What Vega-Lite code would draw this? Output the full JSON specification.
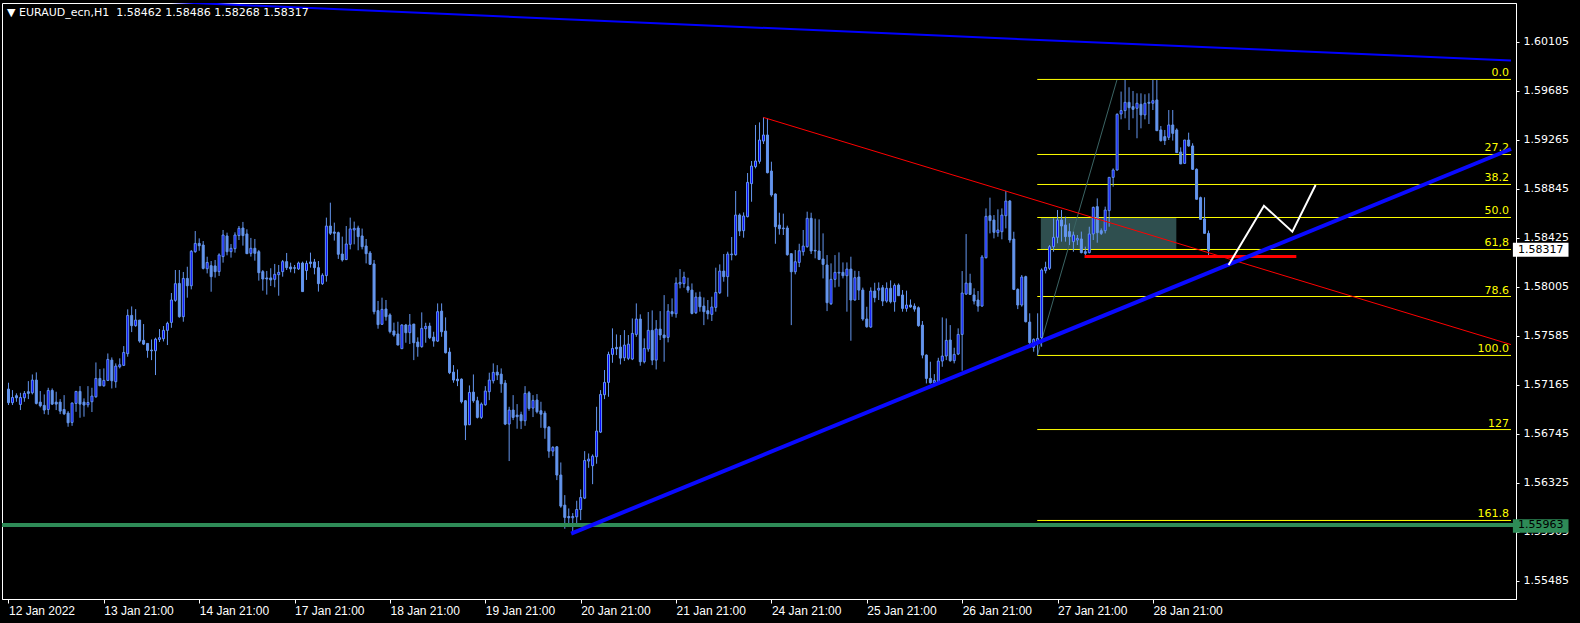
{
"$schema": "https://vega.github.io/schema/vega-lite/v6.json",
"width": 1514, "height": 596,
"autosize": {"type": "none"},
"padding": {"left": 2, "top": 3, "right": 64, "bottom": 24},
"background": "#000000",
"config": {"view": {"stroke": "#ffffff", "strokeWidth": 1}},
"title": {"text": "▼ EURAUD_ecn,H1\u00a0\u00a01.58462 1.58486 1.58268 1.58317", "anchor": "start", "orient": "top", "offset": 0, "dy": 24, "baseline": "alphabetic", "color": "#ffffff", "font": "DejaVu Sans", "fontSize": 11, "fontWeight": "normal", "dx": 5},
"datasets": {
"candles": [
{"i":0,"o":1.57128,"h":1.57182,"l":1.56991,"c":1.57011},
{"i":1,"o":1.57011,"h":1.57119,"l":1.56991,"c":1.57056},
{"i":2,"o":1.57071,"h":1.57091,"l":1.57019,"c":1.57053},
{"i":3,"o":1.56996,"h":1.57096,"l":1.56948,"c":1.57056},
{"i":4,"o":1.57053,"h":1.57111,"l":1.57019,"c":1.57091},
{"i":5,"o":1.57105,"h":1.57196,"l":1.57042,"c":1.57091},
{"i":6,"o":1.57096,"h":1.57253,"l":1.57082,"c":1.57205},
{"i":7,"o":1.57205,"h":1.57271,"l":1.56996,"c":1.57005},
{"i":8,"o":1.57016,"h":1.57111,"l":1.56971,"c":1.56985},
{"i":9,"o":1.56988,"h":1.57082,"l":1.56913,"c":1.56948},
{"i":10,"o":1.56953,"h":1.57139,"l":1.56908,"c":1.57116},
{"i":11,"o":1.57116,"h":1.57133,"l":1.56991,"c":1.56999},
{"i":12,"o":1.57016,"h":1.57105,"l":1.56948,"c":1.56999},
{"i":13,"o":1.57016,"h":1.57042,"l":1.56913,"c":1.56939},
{"i":14,"o":1.56953,"h":1.57076,"l":1.56905,"c":1.56916},
{"i":15,"o":1.56922,"h":1.56939,"l":1.56805,"c":1.56839},
{"i":16,"o":1.56842,"h":1.57013,"l":1.56813,"c":1.57008},
{"i":17,"o":1.57005,"h":1.57111,"l":1.56933,"c":1.57108},
{"i":18,"o":1.57108,"h":1.57153,"l":1.56882,"c":1.56999},
{"i":19,"o":1.57016,"h":1.57048,"l":1.56891,"c":1.56991},
{"i":20,"o":1.56993,"h":1.57153,"l":1.56971,"c":1.57013},
{"i":21,"o":1.57019,"h":1.57139,"l":1.56931,"c":1.57068},
{"i":22,"o":1.57062,"h":1.57356,"l":1.57053,"c":1.57219},
{"i":23,"o":1.57219,"h":1.57299,"l":1.57156,"c":1.57156},
{"i":24,"o":1.57156,"h":1.57305,"l":1.57148,"c":1.57202},
{"i":25,"o":1.57202,"h":1.57433,"l":1.57196,"c":1.57382},
{"i":26,"o":1.57376,"h":1.57399,"l":1.57133,"c":1.57199},
{"i":27,"o":1.57191,"h":1.57348,"l":1.57139,"c":1.57325},
{"i":28,"o":1.57319,"h":1.57391,"l":1.57305,"c":1.57336},
{"i":29,"o":1.57331,"h":1.57496,"l":1.57325,"c":1.57442},
{"i":30,"o":1.57431,"h":1.57811,"l":1.57405,"c":1.57759},
{"i":31,"o":1.57759,"h":1.57836,"l":1.57616,"c":1.57671},
{"i":32,"o":1.57671,"h":1.57813,"l":1.57662,"c":1.57719},
{"i":33,"o":1.57719,"h":1.57719,"l":1.57525,"c":1.57539},
{"i":34,"o":1.57545,"h":1.57685,"l":1.57505,"c":1.57513},
{"i":35,"o":1.57519,"h":1.57519,"l":1.57396,"c":1.57459},
{"i":36,"o":1.57462,"h":1.57553,"l":1.57376,"c":1.57456},
{"i":37,"o":1.57456,"h":1.57568,"l":1.57248,"c":1.57556},
{"i":38,"o":1.57553,"h":1.57642,"l":1.57531,"c":1.57568},
{"i":39,"o":1.57559,"h":1.57668,"l":1.57536,"c":1.57631},
{"i":40,"o":1.57631,"h":1.57705,"l":1.57505,"c":1.57691},
{"i":41,"o":1.57699,"h":1.57951,"l":1.57653,"c":1.57891},
{"i":42,"o":1.57888,"h":1.58148,"l":1.57876,"c":1.58031},
{"i":43,"o":1.58033,"h":1.58148,"l":1.57739,"c":1.57748},
{"i":44,"o":1.57748,"h":1.58131,"l":1.57705,"c":1.58076},
{"i":45,"o":1.58076,"h":1.58176,"l":1.57911,"c":1.58013},
{"i":46,"o":1.58013,"h":1.58319,"l":1.57982,"c":1.58308},
{"i":47,"o":1.58305,"h":1.58482,"l":1.58296,"c":1.58376},
{"i":48,"o":1.58376,"h":1.58419,"l":1.58313,"c":1.58356},
{"i":49,"o":1.58362,"h":1.58396,"l":1.58153,"c":1.58162},
{"i":50,"o":1.58159,"h":1.58262,"l":1.58119,"c":1.58213},
{"i":51,"o":1.58185,"h":1.58225,"l":1.57962,"c":1.58091},
{"i":52,"o":1.58183,"h":1.58234,"l":1.58083,"c":1.58134},
{"i":53,"o":1.58134,"h":1.58291,"l":1.58097,"c":1.58277},
{"i":54,"o":1.58263,"h":1.58491,"l":1.58211,"c":1.58448},
{"i":55,"o":1.5844,"h":1.58468,"l":1.58274,"c":1.58305},
{"i":56,"o":1.58305,"h":1.58371,"l":1.58254,"c":1.58334},
{"i":57,"o":1.58331,"h":1.58471,"l":1.58297,"c":1.58448},
{"i":58,"o":1.58443,"h":1.58525,"l":1.58405,"c":1.58505},
{"i":59,"o":1.58508,"h":1.5856,"l":1.58357,"c":1.58443},
{"i":60,"o":1.58457,"h":1.58497,"l":1.58288,"c":1.58288},
{"i":61,"o":1.58291,"h":1.58423,"l":1.58263,"c":1.58334},
{"i":62,"o":1.58334,"h":1.58414,"l":1.58228,"c":1.58291},
{"i":63,"o":1.58305,"h":1.5832,"l":1.58057,"c":1.58125},
{"i":64,"o":1.58134,"h":1.58148,"l":1.57971,"c":1.58071},
{"i":65,"o":1.5808,"h":1.5814,"l":1.57937,"c":1.58071},
{"i":66,"o":1.5808,"h":1.58163,"l":1.58011,"c":1.58063},
{"i":67,"o":1.58068,"h":1.582,"l":1.58,"c":1.58111},
{"i":68,"o":1.58108,"h":1.58191,"l":1.57928,"c":1.58128},
{"i":69,"o":1.58134,"h":1.58234,"l":1.58091,"c":1.5822},
{"i":70,"o":1.5822,"h":1.58294,"l":1.58148,"c":1.58168},
{"i":71,"o":1.58174,"h":1.58211,"l":1.58128,"c":1.58157},
{"i":72,"o":1.58168,"h":1.58191,"l":1.5812,"c":1.58163},
{"i":73,"o":1.58157,"h":1.5822,"l":1.58148,"c":1.58208},
{"i":74,"o":1.58208,"h":1.5822,"l":1.57963,"c":1.57963},
{"i":75,"o":1.58143,"h":1.58228,"l":1.58063,"c":1.58205},
{"i":76,"o":1.58217,"h":1.58297,"l":1.58168,"c":1.58203},
{"i":77,"o":1.58217,"h":1.58243,"l":1.58111,"c":1.58168},
{"i":78,"o":1.58168,"h":1.58225,"l":1.57963,"c":1.58031},
{"i":79,"o":1.58031,"h":1.5812,"l":1.5802,"c":1.58103},
{"i":80,"o":1.581,"h":1.58597,"l":1.58048,"c":1.58525},
{"i":81,"o":1.58525,"h":1.58725,"l":1.58448,"c":1.58463},
{"i":82,"o":1.58474,"h":1.58554,"l":1.584,"c":1.58463},
{"i":83,"o":1.58468,"h":1.58477,"l":1.58243,"c":1.58283},
{"i":84,"o":1.58285,"h":1.58434,"l":1.5822,"c":1.58234},
{"i":85,"o":1.58237,"h":1.58525,"l":1.58234,"c":1.58371},
{"i":86,"o":1.58368,"h":1.58597,"l":1.58325,"c":1.585},
{"i":87,"o":1.58491,"h":1.58563,"l":1.58368,"c":1.58505},
{"i":88,"o":1.58508,"h":1.58528,"l":1.58317,"c":1.58434},
{"i":89,"o":1.5844,"h":1.58503,"l":1.58325,"c":1.58348},
{"i":90,"o":1.58354,"h":1.58414,"l":1.58205,"c":1.58288},
{"i":91,"o":1.58294,"h":1.58311,"l":1.58191,"c":1.58197},
{"i":92,"o":1.582,"h":1.58234,"l":1.57768,"c":1.57791},
{"i":93,"o":1.578,"h":1.57883,"l":1.57645,"c":1.5768},
{"i":94,"o":1.57683,"h":1.57911,"l":1.57677,"c":1.57811},
{"i":95,"o":1.57814,"h":1.57891,"l":1.57714,"c":1.57748},
{"i":96,"o":1.57763,"h":1.57777,"l":1.57605,"c":1.5762},
{"i":97,"o":1.57626,"h":1.57697,"l":1.57577,"c":1.57591},
{"i":98,"o":1.576,"h":1.57705,"l":1.57505,"c":1.57505},
{"i":99,"o":1.57474,"h":1.57683,"l":1.57474,"c":1.57677},
{"i":100,"o":1.57677,"h":1.57686,"l":1.57525,"c":1.57611},
{"i":101,"o":1.57611,"h":1.57771,"l":1.57514,"c":1.57677},
{"i":102,"o":1.57685,"h":1.57685,"l":1.57376,"c":1.57525},
{"i":103,"o":1.57531,"h":1.57571,"l":1.57405,"c":1.57491},
{"i":104,"o":1.57491,"h":1.57785,"l":1.57482,"c":1.57648},
{"i":105,"o":1.57645,"h":1.57696,"l":1.57525,"c":1.57665},
{"i":106,"o":1.57668,"h":1.57696,"l":1.57556,"c":1.57568},
{"i":107,"o":1.57573,"h":1.57619,"l":1.57491,"c":1.57539},
{"i":108,"o":1.57539,"h":1.57862,"l":1.57531,"c":1.57791},
{"i":109,"o":1.57796,"h":1.57862,"l":1.57576,"c":1.57619},
{"i":110,"o":1.57625,"h":1.57742,"l":1.57433,"c":1.57439},
{"i":111,"o":1.57445,"h":1.57482,"l":1.57256,"c":1.57268},
{"i":112,"o":1.57273,"h":1.57333,"l":1.57182,"c":1.57205},
{"i":113,"o":1.57213,"h":1.57296,"l":1.57153,"c":1.57199},
{"i":114,"o":1.57213,"h":1.57219,"l":1.57005,"c":1.57019},
{"i":115,"o":1.57028,"h":1.57034,"l":1.56691,"c":1.56819},
{"i":116,"o":1.56822,"h":1.57159,"l":1.56819,"c":1.57099},
{"i":117,"o":1.57102,"h":1.57253,"l":1.57011,"c":1.57028},
{"i":118,"o":1.57028,"h":1.57062,"l":1.56876,"c":1.56885},
{"i":119,"o":1.56885,"h":1.57013,"l":1.56871,"c":1.56999},
{"i":120,"o":1.56993,"h":1.57153,"l":1.56985,"c":1.57111},
{"i":121,"o":1.57105,"h":1.57268,"l":1.57033,"c":1.57205},
{"i":122,"o":1.57199,"h":1.57348,"l":1.57176,"c":1.57271},
{"i":123,"o":1.57273,"h":1.57333,"l":1.57205,"c":1.57248},
{"i":124,"o":1.57256,"h":1.57305,"l":1.57096,"c":1.57173},
{"i":125,"o":1.57179,"h":1.57205,"l":1.56819,"c":1.56828},
{"i":126,"o":1.56828,"h":1.56976,"l":1.56511,"c":1.56948},
{"i":127,"o":1.56948,"h":1.57076,"l":1.56862,"c":1.56885},
{"i":128,"o":1.56905,"h":1.56999,"l":1.56788,"c":1.56891},
{"i":129,"o":1.56908,"h":1.56934,"l":1.56785,"c":1.56856},
{"i":130,"o":1.56856,"h":1.57153,"l":1.56813,"c":1.57091},
{"i":131,"o":1.57096,"h":1.57111,"l":1.56942,"c":1.56962},
{"i":132,"o":1.56965,"h":1.57076,"l":1.56888,"c":1.57031},
{"i":133,"o":1.57034,"h":1.57085,"l":1.56919,"c":1.56933},
{"i":134,"o":1.56942,"h":1.57019,"l":1.56796,"c":1.56913},
{"i":135,"o":1.56922,"h":1.56942,"l":1.56702,"c":1.56796},
{"i":136,"o":1.56802,"h":1.56811,"l":1.56539,"c":1.56596},
{"i":137,"o":1.56596,"h":1.56639,"l":1.56553,"c":1.56628},
{"i":138,"o":1.56633,"h":1.56639,"l":1.56348,"c":1.56391},
{"i":139,"o":1.56391,"h":1.56499,"l":1.56111,"c":1.56125},
{"i":140,"o":1.56133,"h":1.56219,"l":1.55931,"c":1.56028},
{"i":141,"o":1.56036,"h":1.56105,"l":1.55948,"c":1.56025},
{"i":142,"o":1.56025,"h":1.56065,"l":1.55891,"c":1.56036},
{"i":143,"o":1.56033,"h":1.56171,"l":1.55948,"c":1.56096},
{"i":144,"o":1.56096,"h":1.56268,"l":1.56005,"c":1.56199},
{"i":145,"o":1.56193,"h":1.56596,"l":1.56185,"c":1.56516},
{"i":146,"o":1.56511,"h":1.56576,"l":1.56453,"c":1.56528},
{"i":147,"o":1.56471,"h":1.56568,"l":1.56313,"c":1.56553},
{"i":148,"o":1.56548,"h":1.56976,"l":1.56488,"c":1.56768},
{"i":149,"o":1.56759,"h":1.57119,"l":1.56751,"c":1.57082},
{"i":150,"o":1.57079,"h":1.57291,"l":1.57042,"c":1.57185},
{"i":151,"o":1.57185,"h":1.57448,"l":1.57062,"c":1.57425},
{"i":152,"o":1.57425,"h":1.57648,"l":1.57353,"c":1.57476},
{"i":153,"o":1.57485,"h":1.57596,"l":1.57419,"c":1.57473},
{"i":154,"o":1.57488,"h":1.57591,"l":1.57339,"c":1.57393},
{"i":155,"o":1.57396,"h":1.57633,"l":1.57368,"c":1.57505},
{"i":156,"o":1.57391,"h":1.57591,"l":1.57376,"c":1.57513},
{"i":157,"o":1.57385,"h":1.57733,"l":1.57376,"c":1.57605},
{"i":158,"o":1.57596,"h":1.57862,"l":1.57576,"c":1.57728},
{"i":159,"o":1.57728,"h":1.57768,"l":1.57328,"c":1.57362},
{"i":160,"o":1.57362,"h":1.57562,"l":1.57348,"c":1.57476},
{"i":161,"o":1.57471,"h":1.57788,"l":1.57448,"c":1.57631},
{"i":162,"o":1.57631,"h":1.57802,"l":1.57333,"c":1.57376},
{"i":163,"o":1.57376,"h":1.57719,"l":1.57296,"c":1.57642},
{"i":164,"o":1.57642,"h":1.57796,"l":1.57548,"c":1.57591},
{"i":165,"o":1.57591,"h":1.57933,"l":1.57362,"c":1.57568},
{"i":166,"o":1.57571,"h":1.57856,"l":1.57528,"c":1.57796},
{"i":167,"o":1.57791,"h":1.57905,"l":1.57748,"c":1.57773},
{"i":168,"o":1.57773,"h":1.58085,"l":1.57739,"c":1.58036},
{"i":169,"o":1.58028,"h":1.58156,"l":1.57991,"c":1.58042},
{"i":170,"o":1.58031,"h":1.58133,"l":1.57996,"c":1.58088},
{"i":171,"o":1.58005,"h":1.58082,"l":1.57953,"c":1.57976},
{"i":172,"o":1.57976,"h":1.58033,"l":1.57768,"c":1.57776},
{"i":173,"o":1.57782,"h":1.57956,"l":1.57771,"c":1.57916},
{"i":174,"o":1.57916,"h":1.57962,"l":1.57791,"c":1.57833},
{"i":175,"o":1.57839,"h":1.57913,"l":1.57676,"c":1.57791},
{"i":176,"o":1.57799,"h":1.57891,"l":1.57725,"c":1.57773},
{"i":177,"o":1.57768,"h":1.57919,"l":1.57711,"c":1.57831},
{"i":178,"o":1.57828,"h":1.58168,"l":1.57791,"c":1.57956},
{"i":179,"o":1.57953,"h":1.58196,"l":1.57942,"c":1.58139},
{"i":180,"o":1.58139,"h":1.58285,"l":1.58048,"c":1.58091},
{"i":181,"o":1.58091,"h":1.58305,"l":1.57919,"c":1.58285},
{"i":182,"o":1.58279,"h":1.58431,"l":1.58231,"c":1.58285},
{"i":183,"o":1.58279,"h":1.58825,"l":1.58271,"c":1.58619},
{"i":184,"o":1.58619,"h":1.58633,"l":1.58439,"c":1.58482},
{"i":185,"o":1.58485,"h":1.58642,"l":1.58425,"c":1.58611},
{"i":186,"o":1.58605,"h":1.58979,"l":1.58599,"c":1.58899},
{"i":187,"o":1.58888,"h":1.59082,"l":1.58733,"c":1.59039},
{"i":188,"o":1.59034,"h":1.59391,"l":1.59019,"c":1.59082},
{"i":189,"o":1.59079,"h":1.59413,"l":1.59059,"c":1.59262},
{"i":190,"o":1.59253,"h":1.59456,"l":1.59228,"c":1.59305},
{"i":191,"o":1.59305,"h":1.59448,"l":1.58976,"c":1.58982},
{"i":192,"o":1.58996,"h":1.59076,"l":1.58776,"c":1.58791},
{"i":193,"o":1.58799,"h":1.58805,"l":1.58373,"c":1.58519},
{"i":194,"o":1.58533,"h":1.58639,"l":1.58451,"c":1.58502},
{"i":195,"o":1.58508,"h":1.58631,"l":1.58448,"c":1.58502},
{"i":196,"o":1.58508,"h":1.58528,"l":1.58271,"c":1.58279},
{"i":197,"o":1.58288,"h":1.58288,"l":1.57676,"c":1.58133},
{"i":198,"o":1.58133,"h":1.58319,"l":1.58111,"c":1.58219},
{"i":199,"o":1.58213,"h":1.58373,"l":1.58173,"c":1.58313},
{"i":200,"o":1.58305,"h":1.58491,"l":1.58271,"c":1.58353},
{"i":201,"o":1.58348,"h":1.58648,"l":1.58339,"c":1.58591},
{"i":202,"o":1.58591,"h":1.58639,"l":1.58285,"c":1.58311},
{"i":203,"o":1.58316,"h":1.58588,"l":1.58248,"c":1.58311},
{"i":204,"o":1.58311,"h":1.58582,"l":1.58233,"c":1.58239},
{"i":205,"o":1.58242,"h":1.58462,"l":1.58076,"c":1.58196},
{"i":206,"o":1.58191,"h":1.58276,"l":1.57796,"c":1.57868},
{"i":207,"o":1.57859,"h":1.58205,"l":1.57848,"c":1.58068},
{"i":208,"o":1.58068,"h":1.58276,"l":1.57999,"c":1.58128},
{"i":209,"o":1.58122,"h":1.58299,"l":1.58005,"c":1.58128},
{"i":210,"o":1.58128,"h":1.58213,"l":1.58076,"c":1.58099},
{"i":211,"o":1.58099,"h":1.58213,"l":1.57791,"c":1.58156},
{"i":212,"o":1.58156,"h":1.58262,"l":1.57542,"c":1.57891},
{"i":213,"o":1.57891,"h":1.58142,"l":1.57885,"c":1.58082},
{"i":214,"o":1.58088,"h":1.58139,"l":1.57891,"c":1.57976},
{"i":215,"o":1.57976,"h":1.57997,"l":1.57713,"c":1.57728},
{"i":216,"o":1.57728,"h":1.57833,"l":1.57653,"c":1.57662},
{"i":217,"o":1.57659,"h":1.57999,"l":1.57653,"c":1.57968},
{"i":218,"o":1.57968,"h":1.58039,"l":1.57871,"c":1.57911},
{"i":219,"o":1.57976,"h":1.58042,"l":1.57891,"c":1.57991},
{"i":220,"o":1.57996,"h":1.58019,"l":1.57839,"c":1.57882},
{"i":221,"o":1.57882,"h":1.58042,"l":1.57868,"c":1.57991},
{"i":222,"o":1.57991,"h":1.58059,"l":1.57862,"c":1.57876},
{"i":223,"o":1.57876,"h":1.58033,"l":1.57791,"c":1.58016},
{"i":224,"o":1.58019,"h":1.58033,"l":1.57928,"c":1.57928},
{"i":225,"o":1.57934,"h":1.57976,"l":1.57791,"c":1.57819},
{"i":226,"o":1.57819,"h":1.57971,"l":1.57791,"c":1.57848},
{"i":227,"o":1.57848,"h":1.57896,"l":1.57825,"c":1.57831},
{"i":228,"o":1.57839,"h":1.57862,"l":1.57791,"c":1.57813},
{"i":229,"o":1.57825,"h":1.57836,"l":1.57662,"c":1.57671},
{"i":230,"o":1.57676,"h":1.57711,"l":1.57391,"c":1.57419},
{"i":231,"o":1.57419,"h":1.57425,"l":1.57176,"c":1.57219},
{"i":232,"o":1.57219,"h":1.57362,"l":1.57176,"c":1.57182},
{"i":233,"o":1.57182,"h":1.57256,"l":1.57176,"c":1.57202},
{"i":234,"o":1.57191,"h":1.57396,"l":1.57176,"c":1.57368},
{"i":235,"o":1.57368,"h":1.57742,"l":1.57319,"c":1.57411},
{"i":236,"o":1.57411,"h":1.57733,"l":1.57376,"c":1.57545},
{"i":237,"o":1.57548,"h":1.57676,"l":1.57362,"c":1.57371},
{"i":238,"o":1.57371,"h":1.57482,"l":1.57348,"c":1.57425},
{"i":239,"o":1.57428,"h":1.57648,"l":1.57419,"c":1.57596},
{"i":240,"o":1.57596,"h":1.58139,"l":1.57285,"c":1.57951},
{"i":241,"o":1.57942,"h":1.58456,"l":1.57934,"c":1.58036},
{"i":242,"o":1.58036,"h":1.58116,"l":1.57934,"c":1.57939},
{"i":243,"o":1.57934,"h":1.57991,"l":1.57853,"c":1.57882},
{"i":244,"o":1.57891,"h":1.57968,"l":1.57791,"c":1.57839},
{"i":245,"o":1.57839,"h":1.58276,"l":1.57834,"c":1.58259},
{"i":246,"o":1.58253,"h":1.58676,"l":1.58248,"c":1.58608},
{"i":247,"o":1.58613,"h":1.58768,"l":1.58462,"c":1.58571},
{"i":248,"o":1.58576,"h":1.58619,"l":1.58419,"c":1.58471},
{"i":249,"o":1.58468,"h":1.58668,"l":1.58433,"c":1.58491},
{"i":250,"o":1.58476,"h":1.58676,"l":1.58411,"c":1.58619},
{"i":251,"o":1.58613,"h":1.58825,"l":1.58505,"c":1.58739},
{"i":252,"o":1.58739,"h":1.58748,"l":1.58382,"c":1.58405},
{"i":253,"o":1.58413,"h":1.58476,"l":1.57976,"c":1.57982},
{"i":254,"o":1.57982,"h":1.57991,"l":1.57813,"c":1.57848},
{"i":255,"o":1.57848,"h":1.58105,"l":1.57834,"c":1.58088},
{"i":256,"o":1.58091,"h":1.58099,"l":1.57699,"c":1.57705},
{"i":257,"o":1.57702,"h":1.57777,"l":1.57485,"c":1.57525},
{"i":258,"o":1.57485,"h":1.57562,"l":1.57448,"c":1.57554},
{"i":259,"o":1.57525,"h":1.57777,"l":1.57419,"c":1.57562},
{"i":260,"o":1.57568,"h":1.58162,"l":1.57491,"c":1.58148},
{"i":261,"o":1.58142,"h":1.58219,"l":1.58119,"c":1.58171},
{"i":262,"o":1.58162,"h":1.58362,"l":1.58148,"c":1.58348},
{"i":263,"o":1.58348,"h":1.58591,"l":1.58305,"c":1.58428},
{"i":264,"o":1.58428,"h":1.58662,"l":1.58377,"c":1.58577},
{"i":265,"o":1.58577,"h":1.58662,"l":1.58391,"c":1.58525},
{"i":266,"o":1.58534,"h":1.58605,"l":1.58391,"c":1.58434},
{"i":267,"o":1.58477,"h":1.58548,"l":1.58362,"c":1.58434},
{"i":268,"o":1.58391,"h":1.58477,"l":1.58305,"c":1.58448},
{"i":269,"o":1.58405,"h":1.58448,"l":1.58362,"c":1.58419},
{"i":270,"o":1.58414,"h":1.58477,"l":1.58291,"c":1.58297},
{"i":271,"o":1.58305,"h":1.58348,"l":1.58277,"c":1.58291},
{"i":272,"o":1.58297,"h":1.58519,"l":1.58291,"c":1.58457},
{"i":273,"o":1.58457,"h":1.58691,"l":1.58405,"c":1.58685},
{"i":274,"o":1.58691,"h":1.58762,"l":1.58382,"c":1.58468},
{"i":275,"o":1.58485,"h":1.58505,"l":1.58448,"c":1.58462},
{"i":276,"o":1.58485,"h":1.58691,"l":1.58462,"c":1.58662},
{"i":277,"o":1.58657,"h":1.58762,"l":1.58519,"c":1.58942},
{"i":278,"o":1.58942,"h":1.59019,"l":1.58862,"c":1.59005},
{"i":279,"o":1.59005,"h":1.59491,"l":1.58999,"c":1.59482},
{"i":280,"o":1.59485,"h":1.59677,"l":1.59439,"c":1.59514},
{"i":281,"o":1.59514,"h":1.59777,"l":1.59448,"c":1.59585},
{"i":282,"o":1.59585,"h":1.59714,"l":1.59348,"c":1.59539},
{"i":283,"o":1.59548,"h":1.59682,"l":1.59448,"c":1.59525},
{"i":284,"o":1.59534,"h":1.59662,"l":1.59277,"c":1.59577},
{"i":285,"o":1.59568,"h":1.59662,"l":1.59362,"c":1.59477},
{"i":286,"o":1.59477,"h":1.59654,"l":1.59439,"c":1.59577},
{"i":287,"o":1.59585,"h":1.59662,"l":1.59399,"c":1.59577},
{"i":288,"o":1.59577,"h":1.59777,"l":1.59519,"c":1.59599},
{"i":289,"o":1.59605,"h":1.59777,"l":1.59342,"c":1.59342},
{"i":290,"o":1.59348,"h":1.59382,"l":1.59248,"c":1.59257},
{"i":291,"o":1.59291,"h":1.59348,"l":1.59219,"c":1.59257},
{"i":292,"o":1.59285,"h":1.59519,"l":1.59262,"c":1.59391},
{"i":293,"o":1.59391,"h":1.59519,"l":1.59257,"c":1.59319},
{"i":294,"o":1.59348,"h":1.59362,"l":1.59154,"c":1.59154},
{"i":295,"o":1.59159,"h":1.59199,"l":1.59057,"c":1.59057},
{"i":296,"o":1.59062,"h":1.59262,"l":1.59057,"c":1.59262},
{"i":297,"o":1.59262,"h":1.59325,"l":1.59205,"c":1.59211},
{"i":298,"o":1.59211,"h":1.59234,"l":1.59005,"c":1.59011},
{"i":299,"o":1.59011,"h":1.59019,"l":1.58754,"c":1.58754},
{"i":300,"o":1.58768,"h":1.58777,"l":1.58582,"c":1.58582},
{"i":301,"o":1.58585,"h":1.58771,"l":1.58462,"c":1.58462},
{"i":302,"o":1.58462,"h":1.58486,"l":1.58268,"c":1.58317}
],
"fib": [
{"lvl":"0.0","p":1.59781},{"lvl":"27.2","p":1.59138},{"lvl":"38.2","p":1.58881},{"lvl":"50.0","p":1.58598},{"lvl":"61,8","p":1.58324},{"lvl":"78.6","p":1.57921},{"lvl":"100.0","p":1.57416},{"lvl":"127","p":1.56781},{"lvl":"161.8","p":1.56002}
],
"zone": [{"i1":259.8,"i2":293.9,"p1":1.58596,"p2":1.58325}],
"fibtrend": [{"i":258.9,"p":1.57416},{"i":278.95,"p":1.59776}],
"redline": [{"i":189.95,"p":1.59456},{"i":378.125,"p":1.57509}],
"bluedown": [{"i":40,"p":1.60446},{"i":378.125,"p":1.59943}],
"blueup": [{"i":141.6,"p":1.5589},{"i":378.125,"p":1.59185}],
"zigzag": [{"k":1,"i":307.05,"p":1.58191},{"k":2,"i":315.95,"p":1.58699},{"k":3,"i":323.1,"p":1.58476},{"k":4,"i":328.95,"p":1.58876}],
"support": [{"p":1.55963}],
"redlevel": [{"i1":270.8,"i2":324.1,"p":1.58264}],
"lastprice": [{"p":1.58317,"top":1.58382,"bot":1.58262}],
"supportlabel": [{"p":1.55963,"top":1.56012,"bot":1.55897}]
},
"layer": [
{"data": {"name": "zone"}, "mark": {"type": "rect", "color": "#2F4F4F", "clip": true},
 "encoding": {
  "x": {"field": "i1", "type": "quantitative", "title": null, "scale": {"domain": [-0.375, 378.125], "nice": false, "zero": false},
   "axis": {"values": [0,24,48,72,96,120,144,168,192,216,240,264,288],
    "labelExpr": "['12 Jan 2022','13 Jan 21:00','14 Jan 21:00','17 Jan 21:00','18 Jan 21:00','19 Jan 21:00','20 Jan 21:00','21 Jan 21:00','24 Jan 21:00','25 Jan 21:00','26 Jan 21:00','27 Jan 21:00','28 Jan 21:00'][round(datum.value/24)]",
    "labelAlign": "left", "labelBaseline": "top", "labelColor": "#ffffff", "labelFont": "Liberation Sans", "labelFontSize": 12, "labelPadding": 2, "labelOverlap": false, "labelFlush": false,
    "tickColor": "#ffffff", "tickSize": 4, "domainColor": "#ffffff", "grid": false, "title": null}},
  "x2": {"field": "i2"},
  "y": {"field": "p1", "type": "quantitative", "title": null, "scale": {"domain": [1.55329, 1.60436], "nice": false, "zero": false},
   "axis": {"orient": "right", "values": [1.55485,1.55905,1.56325,1.56745,1.57165,1.57585,1.58005,1.58425,1.58845,1.59265,1.59685,1.60105], "format": ".5f",
    "labelColor": "#ffffff", "labelFont": "DejaVu Sans", "labelFontSize": 11, "labelPadding": 4, "labelOverlap": false, "labelFlush": false, "labelBaseline": "middle",
    "tickColor": "#ffffff", "tickSize": 3, "domainColor": "#ffffff", "grid": false, "title": null}},
  "y2": {"field": "p2"}}},
{"data": {"name": "fib"}, "mark": {"type": "rule", "color": "#FFFF00", "strokeWidth": 1, "clip": true},
 "encoding": {
  "x": {"datum": 258.9, "type": "quantitative", "title": null, "scale": {"domain": [-0.375, 378.125], "nice": false, "zero": false}},
  "x2": {"datum": 378.125},
  "y": {"field": "p", "type": "quantitative", "title": null, "scale": {"domain": [1.55329, 1.60436], "nice": false, "zero": false}}}},
{"data": {"name": "fib"}, "mark": {"type": "text", "color": "#FFFF00", "align": "right", "baseline": "alphabetic", "dy": -3, "font": "DejaVu Sans", "fontSize": 11},
 "encoding": {
  "x": {"datum": 377.6, "type": "quantitative", "title": null, "scale": {"domain": [-0.375, 378.125], "nice": false, "zero": false}},
  "y": {"field": "p", "type": "quantitative", "title": null, "scale": {"domain": [1.55329, 1.60436], "nice": false, "zero": false}},
  "text": {"field": "lvl"}}},
{"data": {"name": "fibtrend"}, "mark": {"type": "line", "color": "#3B6464", "strokeWidth": 1, "clip": true},
 "encoding": {
  "x": {"field": "i", "type": "quantitative", "title": null, "scale": {"domain": [-0.375, 378.125], "nice": false, "zero": false}},
  "y": {"field": "p", "type": "quantitative", "title": null, "scale": {"domain": [1.55329, 1.60436], "nice": false, "zero": false}}}},
{"data": {"name": "candles"}, "mark": {"type": "rule", "color": "#6495ED", "strokeWidth": 1, "clip": true},
 "encoding": {
  "x": {"field": "i", "type": "quantitative", "title": null, "scale": {"domain": [-0.375, 378.125], "nice": false, "zero": false}},
  "y": {"field": "l", "type": "quantitative", "title": null, "scale": {"domain": [1.55329, 1.60436], "nice": false, "zero": false}},
  "y2": {"field": "h"}}},
{"data": {"name": "candles"}, "mark": {"type": "bar", "width": 2, "stroke": "#6495ED", "strokeWidth": 1, "clip": true},
 "encoding": {
  "x": {"field": "i", "type": "quantitative", "title": null, "scale": {"domain": [-0.375, 378.125], "nice": false, "zero": false}},
  "y": {"field": "o", "type": "quantitative", "title": null, "scale": {"domain": [1.55329, 1.60436], "nice": false, "zero": false}},
  "y2": {"field": "c"},
  "fill": {"condition": {"test": "datum.c > datum.o", "value": "#0000FF"}, "value": "#6495ED"}}},
{"data": {"name": "redline"}, "mark": {"type": "line", "color": "#FF0000", "strokeWidth": 1, "clip": true},
 "encoding": {
  "x": {"field": "i", "type": "quantitative", "title": null, "scale": {"domain": [-0.375, 378.125], "nice": false, "zero": false}},
  "y": {"field": "p", "type": "quantitative", "title": null, "scale": {"domain": [1.55329, 1.60436], "nice": false, "zero": false}}}},
{"data": {"name": "support"}, "mark": {"type": "rule", "color": "#2E8B57", "strokeWidth": 4, "clip": true},
 "encoding": {
  "y": {"field": "p", "type": "quantitative", "title": null, "scale": {"domain": [1.55329, 1.60436], "nice": false, "zero": false}}}},
{"data": {"name": "redlevel"}, "mark": {"type": "rule", "color": "#FF0000", "strokeWidth": 3, "clip": true},
 "encoding": {
  "x": {"field": "i1", "type": "quantitative", "title": null, "scale": {"domain": [-0.375, 378.125], "nice": false, "zero": false}},
  "x2": {"field": "i2"},
  "y": {"field": "p", "type": "quantitative", "title": null, "scale": {"domain": [1.55329, 1.60436], "nice": false, "zero": false}}}},
{"data": {"name": "bluedown"}, "mark": {"type": "line", "color": "#0000FF", "strokeWidth": 2, "clip": true},
 "encoding": {
  "x": {"field": "i", "type": "quantitative", "title": null, "scale": {"domain": [-0.375, 378.125], "nice": false, "zero": false}},
  "y": {"field": "p", "type": "quantitative", "title": null, "scale": {"domain": [1.55329, 1.60436], "nice": false, "zero": false}}}},
{"data": {"name": "blueup"}, "mark": {"type": "line", "color": "#0A0AFF", "strokeWidth": 4, "clip": true},
 "encoding": {
  "x": {"field": "i", "type": "quantitative", "title": null, "scale": {"domain": [-0.375, 378.125], "nice": false, "zero": false}},
  "y": {"field": "p", "type": "quantitative", "title": null, "scale": {"domain": [1.55329, 1.60436], "nice": false, "zero": false}}}},
{"data": {"name": "zigzag"}, "mark": {"type": "line", "color": "#FFFFFF", "strokeWidth": 2, "clip": true},
 "encoding": {
  "x": {"field": "i", "type": "quantitative", "title": null, "scale": {"domain": [-0.375, 378.125], "nice": false, "zero": false}},
  "y": {"field": "p", "type": "quantitative", "title": null, "scale": {"domain": [1.55329, 1.60436], "nice": false, "zero": false}},
  "order": {"field": "k"}}},
{"data": {"name": "lastprice"}, "mark": {"type": "rect", "color": "#FFFFFF", "clip": false},
 "encoding": {
  "x": {"datum": 378.6, "type": "quantitative", "title": null, "scale": {"domain": [-0.375, 378.125], "nice": false, "zero": false}},
  "x2": {"datum": 392.6},
  "y": {"field": "top", "type": "quantitative", "title": null, "scale": {"domain": [1.55329, 1.60436], "nice": false, "zero": false}},
  "y2": {"field": "bot"}}},
{"data": {"name": "lastprice"}, "mark": {"type": "text", "color": "#000000", "align": "left", "baseline": "middle", "font": "DejaVu Sans", "fontSize": 11, "clip": false},
 "encoding": {
  "x": {"datum": 379.9, "type": "quantitative", "title": null, "scale": {"domain": [-0.375, 378.125], "nice": false, "zero": false}},
  "y": {"field": "p", "type": "quantitative", "title": null, "scale": {"domain": [1.55329, 1.60436], "nice": false, "zero": false}},
  "text": {"field": "p", "format": ".5f"}}},
{"data": {"name": "supportlabel"}, "mark": {"type": "rect", "color": "#2E8B57", "clip": false},
 "encoding": {
  "x": {"datum": 378.6, "type": "quantitative", "title": null, "scale": {"domain": [-0.375, 378.125], "nice": false, "zero": false}},
  "x2": {"datum": 392.6},
  "y": {"field": "top", "type": "quantitative", "title": null, "scale": {"domain": [1.55329, 1.60436], "nice": false, "zero": false}},
  "y2": {"field": "bot"}}},
{"data": {"name": "supportlabel"}, "mark": {"type": "text", "color": "#000000", "align": "left", "baseline": "middle", "font": "DejaVu Sans", "fontSize": 11, "clip": false},
 "encoding": {
  "x": {"datum": 379.9, "type": "quantitative", "title": null, "scale": {"domain": [-0.375, 378.125], "nice": false, "zero": false}},
  "y": {"field": "p", "type": "quantitative", "title": null, "scale": {"domain": [1.55329, 1.60436], "nice": false, "zero": false}},
  "text": {"field": "p", "format": ".5f"}}}
]
}
